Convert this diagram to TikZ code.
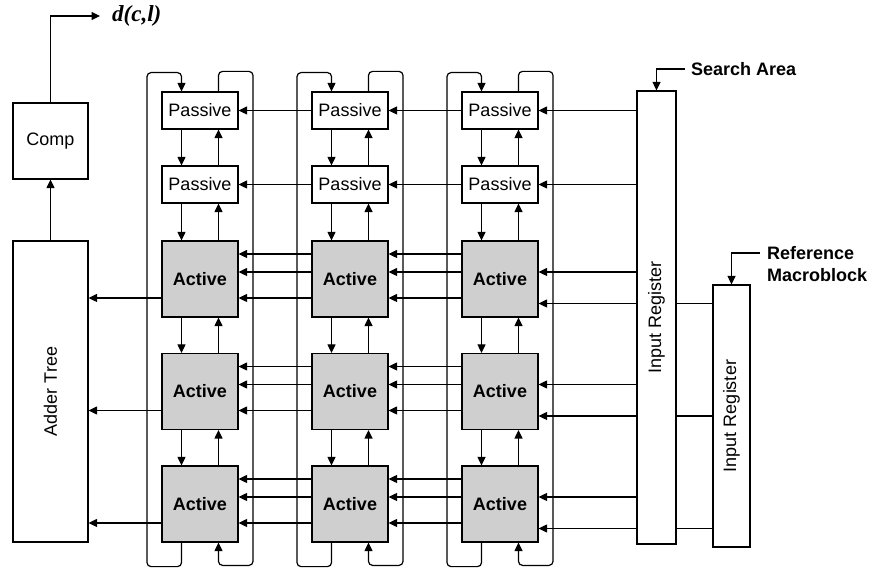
\documentclass[tikz,border=0pt]{standalone}
\usepackage{fontspec}
\setmainfont{Liberation Serif}
\setsansfont{Liberation Sans}
\usetikzlibrary{arrows.meta}

\begin{document}
\begin{tikzpicture}[x=1pt,y=1pt,
    font=\sffamily\fontsize{18}{20}\selectfont,
    box/.style={draw,line width=1.2pt,inner sep=0pt,minimum width=76pt},
    passive/.style={box,minimum height=37pt},
    active/.style={box,fill=gray!38,minimum height=76pt,font=\sffamily\bfseries\fontsize{18}{20}\selectfont},
    reg/.style={box,fill=white},
    tag/.style={font=\sffamily\bfseries\fontsize{18}{22}\selectfont,inner sep=0pt,anchor=west},
    link/.style={line width=1.2pt,-{Triangle[length=8.5pt,width=8pt]}},
    wire/.style={line width=1.2pt}]
  \useasboundingbox (0,0) rectangle (875,570);
  % Comparator and adder tree
  \node[box,minimum width=75pt,minimum height=76pt] (comp) at (50.5,429) {Comp};
  \node[box,minimum width=75pt,minimum height=301pt] (adder) at (50.5,178.5) {\rotatebox{90}{Adder Tree}};
  \draw[link] (adder.north) -- (comp.south);
  \node[font=\rmfamily\bfseries\itshape\fontsize{23}{25}\selectfont,inner sep=0pt,anchor=west] (dcl) at (112,554) {d(c,l)};
  \draw[link] (comp.north) |- ([xshift=-12pt]dcl.west);
  % Input registers
  \node[reg,minimum width=39pt,minimum height=453pt] (sreg) at (656.5,252.5) {\rotatebox{90}{Input Register}};
  \node[reg,minimum width=37pt,minimum height=262pt] (rreg) at (731.5,154) {\rotatebox{90}{Input Register}};
  \node[tag] (sa) at (691,501) {Search Area};
  \draw[link] ([xshift=-6pt]sa.west) -| (sreg.north);
  \node[tag,align=left] (ref) at (767,306) {Reference\\Macroblock};
  \draw[link] ([xshift=-7pt,yshift=11pt]ref.west) -| (rreg.north);
  % Processing columns
  \foreach \c/\x in {1/200,2/350,3/500} {
    \node[passive] (p1-\c) at (\x,459.5) {Passive};
    \node[passive] (p2-\c) at (\x,385.5) {Passive};
    \node[active] (a1-\c) at (\x,291) {Active};
    \node[active] (a2-\c) at (\x,178.5) {Active};
    \node[active] (a3-\c) at (\x,66) {Active};
    % up and down links
    \foreach \u/\l in {p1/p2,p2/a1,a1/a2,a2/a3} {
      \draw[link] ([xshift=-18.5pt]\u-\c.south) -- ([xshift=-18.5pt]\l-\c.north);
      \draw[link] ([xshift=18.5pt]\l-\c.north) -- ([xshift=18.5pt]\u-\c.south);
    }
    % wrap-around loops
    \draw[link,rounded corners=4pt] ([xshift=-18.5pt]a3-\c.south) -- ++(0,-24)
      -| ++(-34.5,494) -| ([xshift=-18.5pt]p1-\c.north);
    \draw[link,rounded corners=4pt] ([xshift=18.5pt]p1-\c.north) -- ++(0,20)
      -| ++(34.5,-494) -| ([xshift=18.5pt]a3-\c.south);
  }
  % Links between columns
  \foreach \c/\d in {2/1,3/2} {
    \draw[link] (p1-\c.west) -- (p1-\d.east);
    \draw[link] (p2-\c.west) -- (p2-\d.east);
    \foreach \r in {1,2,3}
      \foreach \dy in {25,7,-19}
        \draw[link] ([yshift=\dy pt]a\r-\c.west) -- ([yshift=\dy pt]a\r-\d.east);
  }
  % Outputs to the adder tree
  \foreach \r in {1,2,3}
    \draw[link] ([yshift=-19pt]a\r-1.west) -- ([yshift=-19pt]a\r-1.west -| adder.east);
  % Register feeds
  \draw[link] (p1-3.east -| sreg.west) -- (p1-3.east);
  \draw[link] (p2-3.east -| sreg.west) -- (p2-3.east);
  \foreach \r in {1,2,3} {
    \draw[link] ([yshift=7pt]a\r-3.east -| sreg.west) -- ([yshift=7pt]a\r-3.east);
    \draw[link] ([yshift=-24.5pt]a\r-3.east -| sreg.west) -- ([yshift=-24.5pt]a\r-3.east);
    \draw[wire] ([yshift=-24.5pt]a\r-3.east -| rreg.west) -- ([yshift=-24.5pt]a\r-3.east -| sreg.east);
  }
\end{tikzpicture}
\end{document}
